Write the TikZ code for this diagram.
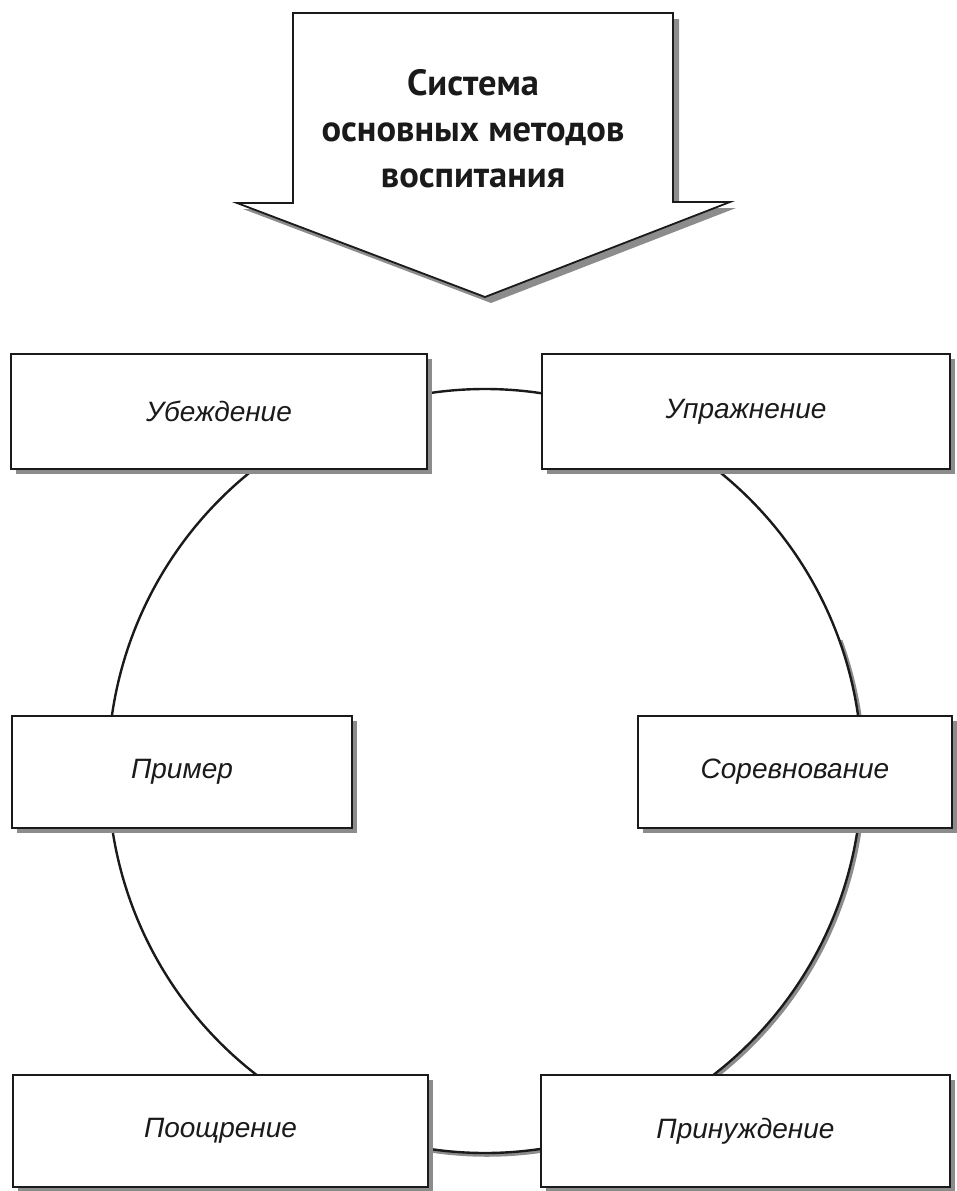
\documentclass[tikz,border=0pt]{standalone}
\usepackage{fontspec}
\newfontfamily\titlefont{PT Sans}
\newfontfamily\labelfont{Liberation Sans}
\usetikzlibrary{shadows}
\definecolor{inkc}{HTML}{1A1A1A}
\definecolor{shadec}{HTML}{8C8C8C}
\tikzset{
  methodbox/.style={draw=inkc, line width=1.8pt, fill=white, rectangle,
    inner sep=0pt, text=inkc,
    font=\labelfont\itshape\fontsize{28}{30}\selectfont,
    drop shadow={shadow xshift=5pt, shadow yshift=-5pt, fill=shadec, opacity=1}},
  ring/.style={draw=inkc, line width=2.4pt},
  ringshade/.style={draw=shadec, line width=3.5pt},
  bigarrow/.style={draw=inkc, line width=1.8pt, fill=white},
  arrowshade/.style={fill=shadec},
  titletext/.style={align=center, text=inkc,
    font=\titlefont\bfseries\fontsize{36.5}{46}\selectfont}
}
\begin{document}
\begin{tikzpicture}[x=1pt, y=-1pt]
\useasboundingbox (0,0) rectangle (956,1191);
% ring connecting the methods
\begin{scope}
  \clip (420,640) rectangle (956,1191);
  \draw[ringshade] (487,773) ellipse [x radius=377, y radius=382];
\end{scope}
\draw[ring] (485,771) ellipse [x radius=377, y radius=382];
% big arrow
\fill[arrowshade] (299,19) -- (679,19) -- (679,208) -- (736,208) -- (491,303) -- (243,209) -- (299,209) -- cycle;
\draw[bigarrow] (293,13) -- (673,13) -- (673,202) -- (730,202) -- (485,297) -- (237,203) -- (293,203) -- cycle;
\node[titletext] (title) at (473,129) {Система\\основных методов\\воспитания};
% method boxes
\node[methodbox, minimum width=416pt, minimum height=115pt] (ub) at (219,411.5) {Убеждение};
\node[methodbox, minimum width=408pt, minimum height=115pt] (up) at (746,411.5) {Упражнение};
\node[methodbox, minimum width=340pt, minimum height=112pt] (pr) at (182,772) {Пример};
\node[methodbox, minimum width=314pt, minimum height=112pt] (so) at (795,772) {Соревнование};
\node[methodbox, minimum width=415pt, minimum height=112pt] (po) at (220.5,1131) {Поощрение};
\node[methodbox, minimum width=409pt, minimum height=112pt] (pn) at (745.5,1131) {Принуждение};
\end{tikzpicture}
\end{document}
